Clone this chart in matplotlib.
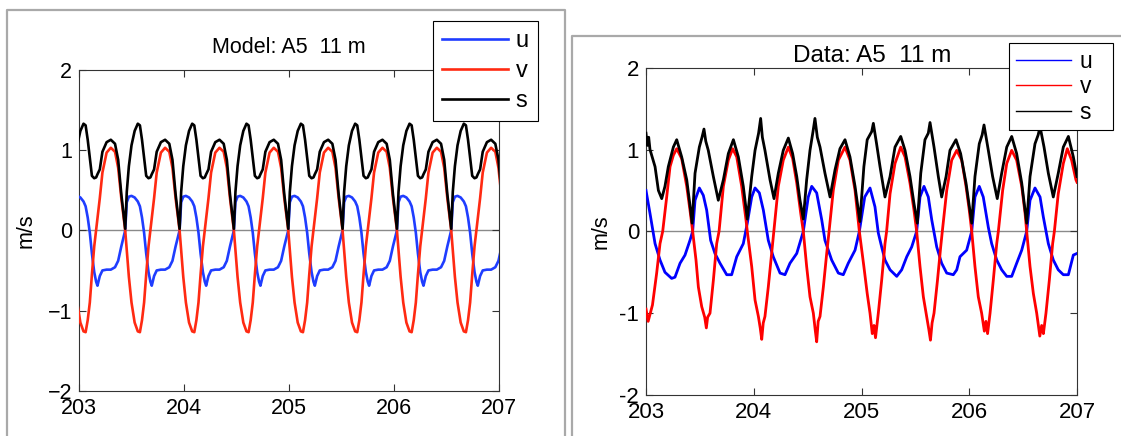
import matplotlib
matplotlib.use('Agg')
import matplotlib.pyplot as plt
from matplotlib.lines import Line2D

W, H = 1121, 436

# ---- model run, station A5, 11 m (time in yearday, velocities in m/s) ----
model_t = [
    202.983, 203.013, 203.043, 203.063, 203.083, 203.103, 203.123, 203.145, 203.163,
    203.176, 203.198, 203.223, 203.263, 203.303, 203.343, 203.373, 203.403,
    203.440, 203.455, 203.475, 203.500, 203.530, 203.560, 203.580, 203.600, 203.620, 203.640,
    203.662, 203.680, 203.693, 203.715, 203.740, 203.780, 203.820, 203.860, 203.890, 203.920,
    203.958, 203.973, 203.993, 204.018, 204.048, 204.078, 204.098, 204.118, 204.138, 204.158,
    204.180, 204.198, 204.211, 204.233, 204.258, 204.298, 204.338, 204.378, 204.408, 204.438,
    204.475, 204.490, 204.510, 204.535, 204.565, 204.595, 204.615, 204.635, 204.655, 204.675,
    204.697, 204.715, 204.728, 204.750, 204.775, 204.815, 204.855, 204.895, 204.925, 204.955,
    204.993, 205.008, 205.028, 205.053, 205.083, 205.113, 205.133, 205.153, 205.173, 205.193,
    205.215, 205.233, 205.246, 205.268, 205.293, 205.333, 205.373, 205.413, 205.443, 205.473,
    205.510, 205.525, 205.545, 205.570, 205.600, 205.630, 205.650, 205.670, 205.690, 205.710,
    205.732, 205.750, 205.763, 205.785, 205.810, 205.850, 205.890, 205.930, 205.960, 205.990,
    206.028, 206.043, 206.063, 206.088, 206.118, 206.148, 206.168, 206.188, 206.208, 206.228,
    206.250, 206.268, 206.281, 206.303, 206.328, 206.368, 206.408, 206.448, 206.478, 206.508,
    206.545, 206.560, 206.580, 206.605, 206.635, 206.665, 206.685, 206.705, 206.725, 206.745,
    206.767, 206.785, 206.798, 206.820, 206.845, 206.885, 206.925, 206.965, 206.995, 207.025,
]
model_u = [
    0.43, 0.41, 0.36, 0.30, 0.16, -0.03, -0.29, -0.52, -0.64,
    -0.69, -0.57, -0.50, -0.49, -0.49, -0.46, -0.38, -0.20,
    0.00, 0.35, 0.42, 0.43, 0.41, 0.36, 0.30, 0.16, -0.03, -0.29,
    -0.52, -0.64, -0.69, -0.57, -0.50, -0.49, -0.49, -0.46, -0.38, -0.20,
    0.00, 0.35, 0.42, 0.43, 0.41, 0.36, 0.30, 0.16, -0.03, -0.29,
    -0.52, -0.64, -0.69, -0.57, -0.50, -0.49, -0.49, -0.46, -0.38, -0.20,
    0.00, 0.35, 0.42, 0.43, 0.41, 0.36, 0.30, 0.16, -0.03, -0.29,
    -0.52, -0.64, -0.69, -0.57, -0.50, -0.49, -0.49, -0.46, -0.38, -0.20,
    0.00, 0.35, 0.42, 0.43, 0.41, 0.36, 0.30, 0.16, -0.03, -0.29,
    -0.52, -0.64, -0.69, -0.57, -0.50, -0.49, -0.49, -0.46, -0.38, -0.20,
    0.00, 0.35, 0.42, 0.43, 0.41, 0.36, 0.30, 0.16, -0.03, -0.29,
    -0.52, -0.64, -0.69, -0.57, -0.50, -0.49, -0.49, -0.46, -0.38, -0.20,
    0.00, 0.35, 0.42, 0.43, 0.41, 0.36, 0.30, 0.16, -0.03, -0.29,
    -0.52, -0.64, -0.69, -0.57, -0.50, -0.49, -0.49, -0.46, -0.38, -0.20,
    0.00, 0.35, 0.42, 0.43, 0.41, 0.36, 0.30, 0.16, -0.03, -0.29,
    -0.52, -0.64, -0.69, -0.57, -0.50, -0.49, -0.49, -0.46, -0.38, -0.20,
]
model_v = [
    -0.90, -1.15, -1.26, -1.27, -1.12, -0.90, -0.55, -0.20, 0.00,
    0.15, 0.40, 0.72, 0.97, 1.03, 0.98, 0.78, 0.40,
    0.00, -0.25, -0.58, -0.90, -1.15, -1.26, -1.27, -1.12, -0.90, -0.55,
    -0.20, 0.00, 0.15, 0.40, 0.72, 0.97, 1.03, 0.98, 0.78, 0.40,
    0.00, -0.25, -0.58, -0.90, -1.15, -1.26, -1.27, -1.12, -0.90, -0.55,
    -0.20, 0.00, 0.15, 0.40, 0.72, 0.97, 1.03, 0.98, 0.78, 0.40,
    0.00, -0.25, -0.58, -0.90, -1.15, -1.26, -1.27, -1.12, -0.90, -0.55,
    -0.20, 0.00, 0.15, 0.40, 0.72, 0.97, 1.03, 0.98, 0.78, 0.40,
    0.00, -0.25, -0.58, -0.90, -1.15, -1.26, -1.27, -1.12, -0.90, -0.55,
    -0.20, 0.00, 0.15, 0.40, 0.72, 0.97, 1.03, 0.98, 0.78, 0.40,
    0.00, -0.25, -0.58, -0.90, -1.15, -1.26, -1.27, -1.12, -0.90, -0.55,
    -0.20, 0.00, 0.15, 0.40, 0.72, 0.97, 1.03, 0.98, 0.78, 0.40,
    0.00, -0.25, -0.58, -0.90, -1.15, -1.26, -1.27, -1.12, -0.90, -0.55,
    -0.20, 0.00, 0.15, 0.40, 0.72, 0.97, 1.03, 0.98, 0.78, 0.40,
    0.00, -0.25, -0.58, -0.90, -1.15, -1.26, -1.27, -1.12, -0.90, -0.55,
    -0.20, 0.00, 0.15, 0.40, 0.72, 0.97, 1.03, 0.98, 0.78, 0.40,
]
model_s = [
    1.06, 1.24, 1.33, 1.31, 1.13, 0.90, 0.68, 0.65, 0.66,
    0.70, 0.76, 0.98, 1.10, 1.13, 1.08, 0.88, 0.45,
    0.02, 0.48, 0.80, 1.06, 1.24, 1.33, 1.31, 1.13, 0.90, 0.68,
    0.65, 0.66, 0.70, 0.76, 0.98, 1.10, 1.13, 1.08, 0.88, 0.45,
    0.02, 0.48, 0.80, 1.06, 1.24, 1.33, 1.31, 1.13, 0.90, 0.68,
    0.65, 0.66, 0.70, 0.76, 0.98, 1.10, 1.13, 1.08, 0.88, 0.45,
    0.02, 0.48, 0.80, 1.06, 1.24, 1.33, 1.31, 1.13, 0.90, 0.68,
    0.65, 0.66, 0.70, 0.76, 0.98, 1.10, 1.13, 1.08, 0.88, 0.45,
    0.02, 0.48, 0.80, 1.06, 1.24, 1.33, 1.31, 1.13, 0.90, 0.68,
    0.65, 0.66, 0.70, 0.76, 0.98, 1.10, 1.13, 1.08, 0.88, 0.45,
    0.02, 0.48, 0.80, 1.06, 1.24, 1.33, 1.31, 1.13, 0.90, 0.68,
    0.65, 0.66, 0.70, 0.76, 0.98, 1.10, 1.13, 1.08, 0.88, 0.45,
    0.02, 0.48, 0.80, 1.06, 1.24, 1.33, 1.31, 1.13, 0.90, 0.68,
    0.65, 0.66, 0.70, 0.76, 0.98, 1.10, 1.13, 1.08, 0.88, 0.45,
    0.02, 0.48, 0.80, 1.06, 1.24, 1.33, 1.31, 1.13, 0.90, 0.68,
    0.65, 0.66, 0.70, 0.76, 0.98, 1.10, 1.13, 1.08, 0.88, 0.45,
]

# ---- moored ADCP record, same station and depth ----
data_u_t = [
    203.000, 203.037, 203.084, 203.130, 203.176, 203.238, 203.269, 203.316, 203.362, 203.408,
    203.433, 203.455, 203.495, 203.532, 203.563, 203.600, 203.640, 203.687, 203.749, 203.795,
    203.842, 203.903, 203.940, 203.981, 204.012, 204.052, 204.089, 204.135, 204.181, 204.244,
    204.290, 204.336, 204.399, 204.460, 204.506, 204.538, 204.584, 204.631, 204.661, 204.723,
    204.785, 204.831, 204.877, 204.940, 204.980, 205.030, 205.079, 205.125, 205.156, 205.187,
    205.218, 205.265, 205.327, 205.373, 205.420, 205.466, 205.512, 205.543, 205.580, 205.620,
    205.652, 205.698, 205.744, 205.791, 205.852, 205.884, 205.914, 205.976, 206.023, 206.053,
    206.093, 206.130, 206.177, 206.208, 206.255, 206.301, 206.348, 206.394, 206.440, 206.487,
    206.533, 206.564, 206.610, 206.657, 206.687, 206.734, 206.780, 206.826, 206.873, 206.920,
    206.966, 207.000,
]
data_u = [
    0.50, 0.22, -0.15, -0.35, -0.50, -0.575, -0.56, -0.39, -0.29, -0.11,
    0.00, 0.38, 0.53, 0.44, 0.26, -0.11, -0.27, -0.39, -0.53, -0.53,
    -0.31, -0.15, 0.10, 0.42, 0.53, 0.47, 0.26, -0.11, -0.31, -0.51,
    -0.53, -0.39, -0.27, 0.00, 0.42, 0.55, 0.47, 0.14, -0.11, -0.35,
    -0.51, -0.53, -0.39, -0.23, 0.00, 0.42, 0.53, 0.30, -0.02, -0.19,
    -0.35, -0.47, -0.55, -0.47, -0.31, -0.19, 0.00, 0.42, 0.55, 0.42,
    0.14, -0.19, -0.39, -0.51, -0.53, -0.47, -0.31, -0.23, 0.00, 0.42,
    0.55, 0.42, 0.05, -0.15, -0.35, -0.47, -0.55, -0.55, -0.39, -0.23,
    0.00, 0.38, 0.53, 0.42, 0.18, -0.15, -0.35, -0.47, -0.53, -0.53,
    -0.29, -0.27,
]
data_v_t = [
    203.000, 203.020, 203.040, 203.060, 203.099, 203.130, 203.155, 203.192, 203.223, 203.254,
    203.285, 203.331, 203.378, 203.408, 203.433, 203.464, 203.486, 203.517, 203.545, 203.560,
    203.572, 203.594, 203.625, 203.656, 203.678, 203.718, 203.764, 203.804, 203.842, 203.888,
    203.928, 203.940, 203.981, 204.012, 204.043, 204.060, 204.074, 204.088, 204.104, 204.135,
    204.166, 204.187, 204.228, 204.274, 204.321, 204.361, 204.399, 204.436, 204.460, 204.491,
    204.522, 204.553, 204.570, 204.584, 204.598, 204.615, 204.646, 204.677, 204.699, 204.738,
    204.785, 204.847, 204.893, 204.940, 204.980, 205.022, 205.053, 205.079, 205.100, 205.116,
    205.130, 205.156, 205.187, 205.218, 205.233, 205.265, 205.311, 205.364, 205.404, 205.450,
    205.487, 205.512, 205.543, 205.574, 205.600, 205.625, 205.640, 205.655, 205.673, 205.705,
    205.735, 205.750, 205.791, 205.837, 205.884, 205.930, 205.970, 206.000, 206.023, 206.053,
    206.084, 206.115, 206.140, 206.155, 206.170, 206.193, 206.223, 206.255, 206.270, 206.310,
    206.348, 206.394, 206.440, 206.487, 206.518, 206.533, 206.564, 206.595, 206.626, 206.655,
    206.672, 206.688, 206.712, 206.743, 206.774, 206.790, 206.826, 206.873, 206.910, 206.950,
    206.990, 207.000,
]
data_v = [
    -0.95, -1.10, -1.00, -0.90, -0.51, -0.15, 0.00, 0.42, 0.79, 0.93,
    1.01, 0.89, 0.55, 0.26, 0.00, -0.35, -0.68, -0.92, -1.05, -1.18,
    -1.05, -1.00, -0.60, -0.15, 0.00, 0.55, 0.87, 1.01, 0.91, 0.55,
    0.14, 0.00, -0.43, -0.84, -1.04, -1.18, -1.32, -1.12, -1.04, -0.68,
    -0.27, 0.00, 0.55, 0.87, 1.03, 0.89, 0.59, 0.22, 0.00, -0.43,
    -0.80, -1.00, -1.20, -1.35, -1.10, -1.04, -0.68, -0.27, 0.00, 0.50,
    0.87, 1.03, 0.87, 0.50, 0.00, -0.43, -0.76, -1.00, -1.25, -1.15,
    -1.30, -1.00, -0.60, -0.15, 0.00, 0.46, 0.83, 1.03, 0.91, 0.59,
    0.26, 0.00, -0.43, -0.80, -1.00, -1.20, -1.33, -1.12, -1.00, -0.60,
    -0.19, 0.00, 0.50, 0.87, 0.99, 0.87, 0.55, 0.26, 0.00, -0.43,
    -0.80, -1.00, -1.22, -1.10, -1.25, -1.00, -0.60, -0.15, 0.00, 0.50,
    0.83, 0.99, 0.87, 0.55, 0.22, 0.00, -0.43, -0.76, -1.00, -1.28,
    -1.15, -1.25, -1.00, -0.60, -0.15, 0.00, 0.46, 0.83, 1.01, 0.87,
    0.63, 0.60,
]
data_s_t = [
    203.000, 203.012, 203.025, 203.037, 203.084, 203.115, 203.146, 203.176, 203.207, 203.254,
    203.285, 203.331, 203.378, 203.405, 203.428, 203.455, 203.495, 203.520, 203.538, 203.555,
    203.578, 203.625, 203.671, 203.718, 203.764, 203.811, 203.857, 203.903, 203.940, 203.981,
    204.012, 204.045, 204.064, 204.080, 204.104, 204.151, 204.188, 204.228, 204.274, 204.321,
    204.361, 204.399, 204.429, 204.460, 204.491, 204.522, 204.550, 204.568, 204.590, 204.615,
    204.661, 204.708, 204.754, 204.800, 204.847, 204.893, 204.940, 204.985, 205.022, 205.053,
    205.095, 205.110, 205.140, 205.172, 205.218, 205.265, 205.311, 205.364, 205.404, 205.450,
    205.487, 205.518, 205.550, 205.589, 205.620, 205.636, 205.673, 205.713, 205.744, 205.785,
    205.821, 205.877, 205.920, 205.970, 206.023, 206.053, 206.093, 206.120, 206.137, 206.177,
    206.217, 206.260, 206.301, 206.348, 206.394, 206.440, 206.487, 206.533, 206.564, 206.610,
    206.640, 206.657, 206.694, 206.734, 206.780, 206.826, 206.873, 206.920, 206.966, 207.000,
]
data_s = [
    1.20, 1.05, 1.15, 1.00, 0.79, 0.50, 0.40, 0.55, 0.79, 1.03,
    1.12, 0.91, 0.63, 0.35, 0.10, 0.71, 1.03, 1.15, 1.25, 1.10,
    0.99, 0.67, 0.38, 0.63, 0.95, 1.12, 0.91, 0.55, 0.15, 0.67,
    0.99, 1.20, 1.38, 1.15, 0.99, 0.63, 0.40, 0.71, 0.99, 1.14,
    0.95, 0.67, 0.38, 0.15, 0.63, 0.99, 1.22, 1.38, 1.15, 1.03,
    0.71, 0.42, 0.75, 1.01, 1.12, 0.91, 0.55, 0.12, 0.79, 1.12,
    1.22, 1.32, 1.07, 0.79, 0.42, 0.67, 1.03, 1.16, 0.99, 0.67,
    0.34, 0.10, 0.71, 1.12, 1.20, 1.33, 1.03, 0.67, 0.42, 0.67,
    0.99, 1.12, 0.95, 0.59, 0.10, 0.67, 1.07, 1.18, 1.30, 0.99,
    0.67, 0.40, 0.71, 1.03, 1.16, 0.95, 0.59, 0.10, 0.67, 1.07,
    1.18, 1.28, 1.03, 0.71, 0.42, 0.71, 1.03, 1.16, 0.91, 0.67,
]

x_ticks = [203, 204, 205, 206, 207]
y_ticks = [-2, -1, 0, 1, 2]


def fig_rect(x0, y0, x1, y1):
    # pixel box (top-left origin) -> figure fraction [left, bottom, width, height]
    return [x0 / W, 1 - y1 / H, (x1 - x0) / W, (y1 - y0) / H]


def fig_xy(x, y):
    return (x / W, 1 - y / H)


def style_axes(ax, ylabels, fs):
    ax.set_xlim(203, 207)
    ax.set_ylim(-2, 2)
    ax.set_xticks(x_ticks)
    ax.set_xticklabels([str(t) for t in x_ticks])
    ax.set_yticks(y_ticks)
    ax.set_yticklabels(ylabels)
    ax.tick_params(direction='in', top=True, right=True, length=5, width=0.8,
                   labelsize=fs, pad=5, color='#333333')
    for sp in ax.spines.values():
        sp.set_color('#333333')
        sp.set_linewidth(0.8)
    ax.axhline(0, color='#8a8a8a', lw=1.0, zorder=1)


plt.rcParams['font.family'] = ['Liberation Sans', 'DejaVu Sans']
fig = plt.figure(figsize=(W / 100, H / 100), dpi=100)

# window frames around the two figures
frame_kw = dict(color='#a9a9a9', lw=1.6, transform=fig.transFigure)
fig.add_artist(Line2D([7 / W, 7 / W, 565 / W, 565 / W], [0, 1 - 10 / H, 1 - 10 / H, 0], **frame_kw))
fig.add_artist(Line2D([572 / W, 572 / W, 1], [0, 1 - 36 / H, 1 - 36 / H], **frame_kw))

# left: model
ax1 = fig.add_axes(fig_rect(79, 70, 499, 390.7))
style_axes(ax1, ['\u22122', '\u22121', '0', '1', '2'], 15.5)
ax1.plot(model_t, model_u, color='#1f3dff', lw=1.9, label='u', zorder=3)
ax1.plot(model_t, model_v, color='#ff2a12', lw=1.9, label='v', zorder=3)
ax1.plot(model_t, model_s, color='black', lw=1.9, label='s', zorder=4)
ax1.set_title('Model: A5  11 m', fontsize=15.5, pad=12)
ax1.set_ylabel('m/s', fontsize=15.5)
ax1.yaxis.set_label_coords(-0.1, 0.5)
leg1 = ax1.legend(loc='upper right', bbox_to_anchor=fig_xy(538, 21),
                  bbox_transform=fig.transFigure, borderaxespad=0, fancybox=False,
                  edgecolor='black', framealpha=1, fontsize=17, handlelength=2.8,
                  handletextpad=0.3, labelspacing=0.33, borderpad=0.4)
leg1.get_frame().set_linewidth(0.8)

# right: observations
ax2 = fig.add_axes(fig_rect(646, 67.7, 1077, 395))
style_axes(ax2, ['-2', '-1', '0', '1', '2'], 16)
ax2.plot(data_u_t, data_u, color='#0000ff', lw=2.0, zorder=3)
ax2.plot(data_v_t, data_v, color='#ff0000', lw=2.0, zorder=3)
ax2.plot(data_s_t, data_s, color='black', lw=2.0, zorder=4)
ax2.set_title('Data: A5  11 m', fontsize=17.5, pad=4, x=0.524)
ax2.set_ylabel('m/s', fontsize=15.5)
ax2.yaxis.set_label_coords(-0.08, 0.5)
handles = [Line2D([], [], color=c, lw=1.0) for c in ('#0000ff', '#ff0000', 'black')]
leg2 = ax2.legend(handles, ['u  ', 'v  ', 's  '], loc='upper right',
                  bbox_to_anchor=fig_xy(1112.7, 42.7), bbox_transform=fig.transFigure,
                  borderaxespad=0, fancybox=False, edgecolor='black', framealpha=1,
                  fontsize=16.5, handlelength=2.4, handletextpad=0.4,
                  labelspacing=0.11, borderpad=0.3)
leg2.get_frame().set_linewidth(0.8)

fig.savefig('out.png', dpi=100)
